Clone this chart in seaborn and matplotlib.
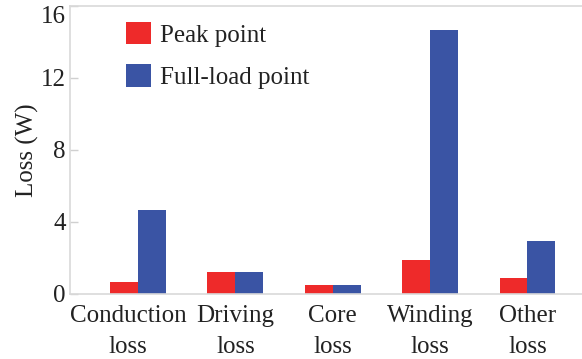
import pandas as pd
import seaborn as sns
import matplotlib.pyplot as plt
import matplotlib.transforms as mtransforms
from matplotlib.patches import Patch

# values
categories = ["Conduction\nloss", "Driving\nloss", "Core\nloss", "Winding\nloss", "Other\nloss"]
peak_point = [0.68, 1.22, 0.50, 1.89, 0.89]
full_load_point = [4.67, 1.22, 0.50, 14.67, 2.94]
series = ["Peak point", "Full-load point"]
colors = ["#EE2A2A", "#3A54A4"]

df = pd.DataFrame({
    "category": categories * 2,
    "loss": peak_point + full_load_point,
    "series": [series[0]] * len(categories) + [series[1]] * len(categories),
})

sns.set_style("white")
plt.rcParams["font.family"] = ["Liberation Serif", "DejaVu Serif"]

fs = 18
fig = plt.figure(figsize=(5.82, 3.59), dpi=100)
ax = fig.add_axes([70 / 582, 1 - 294 / 359, 1 - 70 / 582, 288 / 359])

sns.barplot(data=df, x="category", y="loss", hue="series", palette=colors,
            width=0.575, saturation=1, linewidth=0, ax=ax, legend=False)

ax.set_xlim(-0.7, 4.56)
ax.set_ylim(0, 16)
ax.set_yticks([0, 4, 8, 12, 16])
ax.set_xlabel("")
ax.set_ylabel("Loss (W)", fontsize=fs, color="#222222", labelpad=1)

for side in ["top", "left", "bottom"]:
    ax.spines[side].set_color("#d9d9d9")
    ax.spines[side].set_linewidth(1.2)
ax.spines["right"].set_visible(False)

ax.tick_params(axis="y", direction="in", length=6, width=1, color="#d0d0d0",
               labelsize=fs, labelcolor="#222222", pad=3, left=True)
ax.tick_params(axis="x", length=0, labelsize=fs, labelcolor="#222222", pad=8)
for lab in ax.get_xticklabels():
    lab.set_linespacing(1.5)

# keep the top tick label inside the figure, nudge the first category label left
ax.get_yticklabels()[-1].set_va("top")
first = ax.get_xticklabels()[0]
first.set_transform(first.get_transform() +
                    mtransforms.ScaledTranslation(-10 / 100, 0, fig.dpi_scale_trans))

handles = [Patch(facecolor=c, edgecolor="none", label=s) for c, s in zip(colors, series)]
ax.legend(handles=handles, loc="upper left", bbox_to_anchor=(0.075, 1.005),
          frameon=False, fontsize=fs, handlelength=1.0, handleheight=1.0,
          handletextpad=0.35, labelspacing=0.7, labelcolor="#222222",
          borderaxespad=0.3)

fig.savefig("out.png", dpi=100)
